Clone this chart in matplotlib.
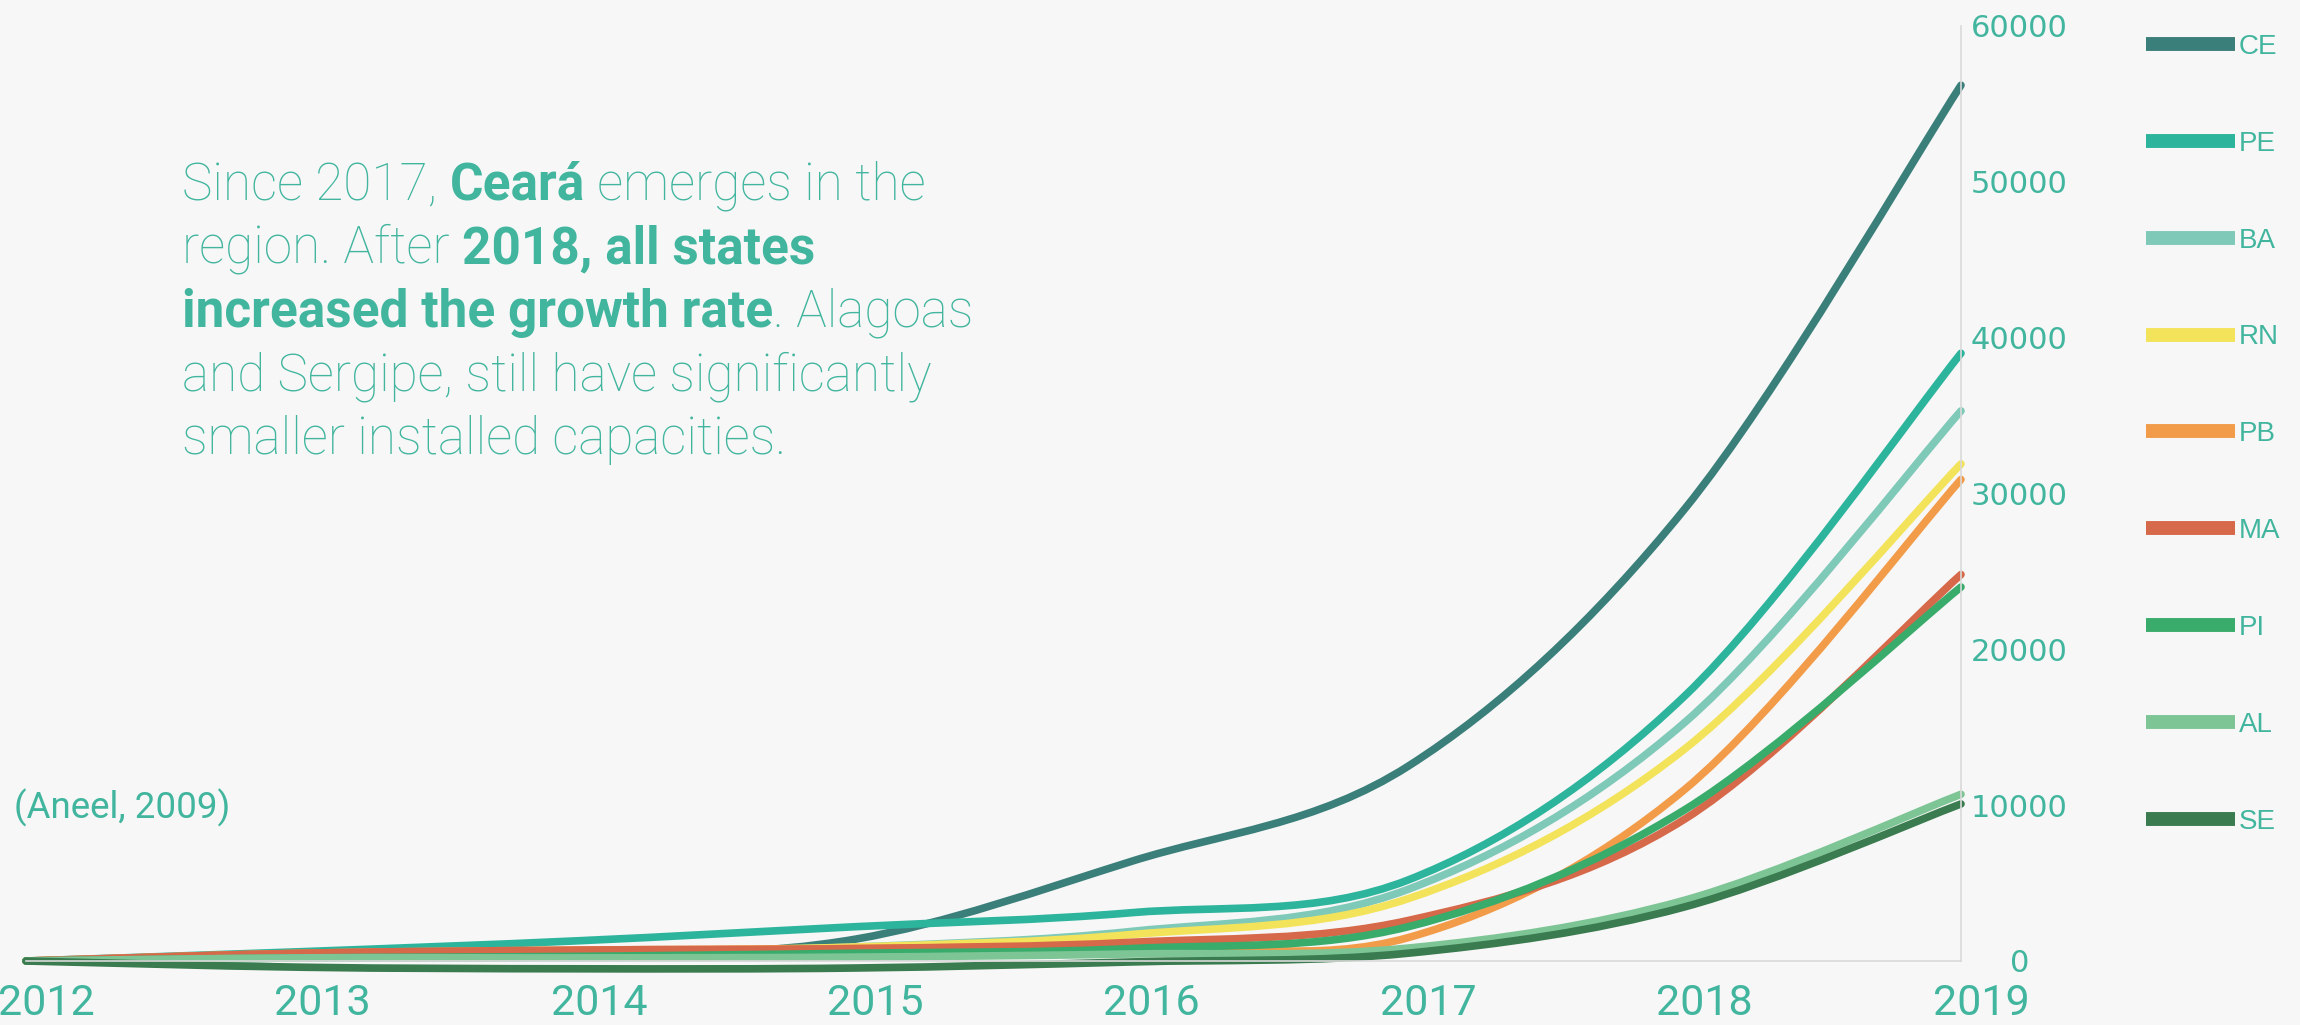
import matplotlib
matplotlib.use('Agg')
import matplotlib.pyplot as plt
import matplotlib.transforms as mtransforms
from matplotlib.path import Path
from matplotlib.patches import PathPatch
from matplotlib.lines import Line2D
from matplotlib import font_manager

# installed capacity by state, 2012-2019
years = [2012, 2013, 2014, 2015, 2016, 2017, 2018, 2019]
states = ['CE', 'PE', 'BA', 'RN', 'PB', 'MA', 'PI', 'AL', 'SE']

ce = [0, 200, 300, 1400, 6400, 12500, 29000, 56200]
pe = [0, 600, 1300, 2200, 3100, 5200, 17000, 39000]
ba = [0, 300, 500, 900, 1900, 4600, 15300, 35300]
rn = [0, 300, 600, 900, 1700, 4000, 13600, 31900]
pb = [0, 500, 700, 800, 1000, 1500, 11000, 30900]
ma = [0, 500, 700, 800, 1200, 2600, 9100, 24800]
pi = [0, 200, 300, 500, 800, 2200, 9700, 24000]
al = [0, 200, 200, 250, 450, 830, 3900, 10700]
se = [0, -400, -500, -450, -60, 500, 3470, 10080]

series = [ce, pe, ba, rn, pb, ma, pi, al, se]
colors = ['#3A7F7A', '#2DB49C', '#7FC9B9', '#F3E35B', '#F29C4A',
          '#D6694A', '#39AB6B', '#7EC596', '#3A7B4F']

y_ticks = [0, 10000, 20000, 30000, 40000, 50000, 60000]

TEAL = '#41B59E'
BG = '#F7F7F7'


def pick_font(names):
    have = {f.name for f in font_manager.fontManager.ttflist}
    for n in names:
        if n in have:
            return n
    return 'DejaVu Sans'


def smooth_path(x, y):
    # сглаженная линия: Catmull-Rom -> кубические Безье
    n = len(x)
    verts = [(x[0], y[0])]
    codes = [Path.MOVETO]
    for i in range(n - 1):
        a = max(i - 1, 0)
        d = min(i + 2, n - 1)
        c1 = (x[i] + (x[i + 1] - x[a]) / 6, y[i] + (y[i + 1] - y[a]) / 6)
        c2 = (x[i + 1] - (x[d] - x[i]) / 6, y[i + 1] - (y[d] - y[i]) / 6)
        verts += [c1, c2, (x[i + 1], y[i + 1])]
        codes += [Path.CURVE4] * 3
    return Path(verts, codes)


def rich_line(fig, x, y, pieces, size, family):
    # пишет строку из кусков разной жирности подряд
    renderer = fig.canvas.get_renderer()
    W = fig.get_figwidth() * fig.dpi
    for txt, weight in pieces:
        t = fig.text(x, y, txt, fontsize=size, fontweight=weight,
                     family=family, color=TEAL, va='center', ha='left')
        x += t.get_window_extent(renderer).width / W


W_PX, H_PX = 2300, 1025
fig = plt.figure(figsize=(W_PX / 100, H_PX / 100), dpi=100, facecolor=BG)
ax = fig.add_axes([26 / W_PX, 1 - 961 / H_PX, (1961 - 26) / W_PX, (961 - 26) / H_PX])
ax.set_facecolor(BG)

for vals, col in zip(series, colors):
    patch = PathPatch(smooth_path(years, vals), facecolor='none', edgecolor=col,
                      lw=5.5, capstyle='round', joinstyle='round', clip_on=False)
    ax.add_patch(patch)

ax.set_xlim(2012, 2019)
ax.set_ylim(0, 60000)

for s in ['left', 'top']:
    ax.spines[s].set_visible(False)
ax.spines['right'].set_color('#D9D9D9')
ax.spines['bottom'].set_color('#D9D9D9')
ax.spines['right'].set_linewidth(1.2)
ax.spines['bottom'].set_linewidth(1.2)

tick_font = pick_font(['Liberation Sans Narrow', 'Roboto'])
ax.set_xticks(years)
ax.set_xticklabels([str(y) for y in years], fontsize=31, color=TEAL, family=tick_font)
ax.tick_params(axis='x', length=0, pad=16)
shift = mtransforms.ScaledTranslation(0.2, 0, fig.dpi_scale_trans)
for lbl in ax.get_xticklabels():
    lbl.set_transform(lbl.get_transform() + shift)

ax.yaxis.tick_right()
ax.set_yticks(y_ticks)
ax.set_yticklabels([str(v) for v in y_ticks], fontsize=22, color=TEAL, family='DejaVu Sans')
ax.tick_params(axis='y', length=0, pad=42)
for lbl in ax.get_yticklabels():
    lbl.set_horizontalalignment('center')

handles = [Line2D([], [], color=c, lw=10, solid_capstyle='butt') for c in colors]
ax.legend(handles, states, loc='upper left', bbox_to_anchor=(2132 / W_PX, 1 - 20 / H_PX),
          bbox_transform=fig.transFigure, frameon=False,
          handlelength=3.2, handletextpad=0.15, labelspacing=2.55, borderpad=0,
          labelcolor=TEAL, prop={'family': pick_font(['Liberation Sans', 'Roboto']), 'size': 20})

# подпись-вывод слева
txt_font = 'Roboto'
lines = [
    [('Since 2017, ', 'light'), ('Ceará', 'bold'), (' emerges in the', 'light')],
    [('region. After ', 'light'), ('2018, all states', 'bold')],
    [('increased the growth rate', 'bold'), ('. Alagoas', 'light')],
    [('and Sergipe, still have significantly', 'light')],
    [('smaller installed capacities.', 'light')],
]
line_y = [186, 249, 313, 377, 440]
for pieces, yy in zip(lines, line_y):
    rich_line(fig, 182 / W_PX, 1 - yy / H_PX, pieces, 37, txt_font)

fig.text(14 / W_PX, 1 - 808 / H_PX, '(Aneel, 2009)', fontsize=26.5, family='Roboto',
         color=TEAL, va='center', ha='left')

fig.savefig('out.png', dpi=100, facecolor=BG)
